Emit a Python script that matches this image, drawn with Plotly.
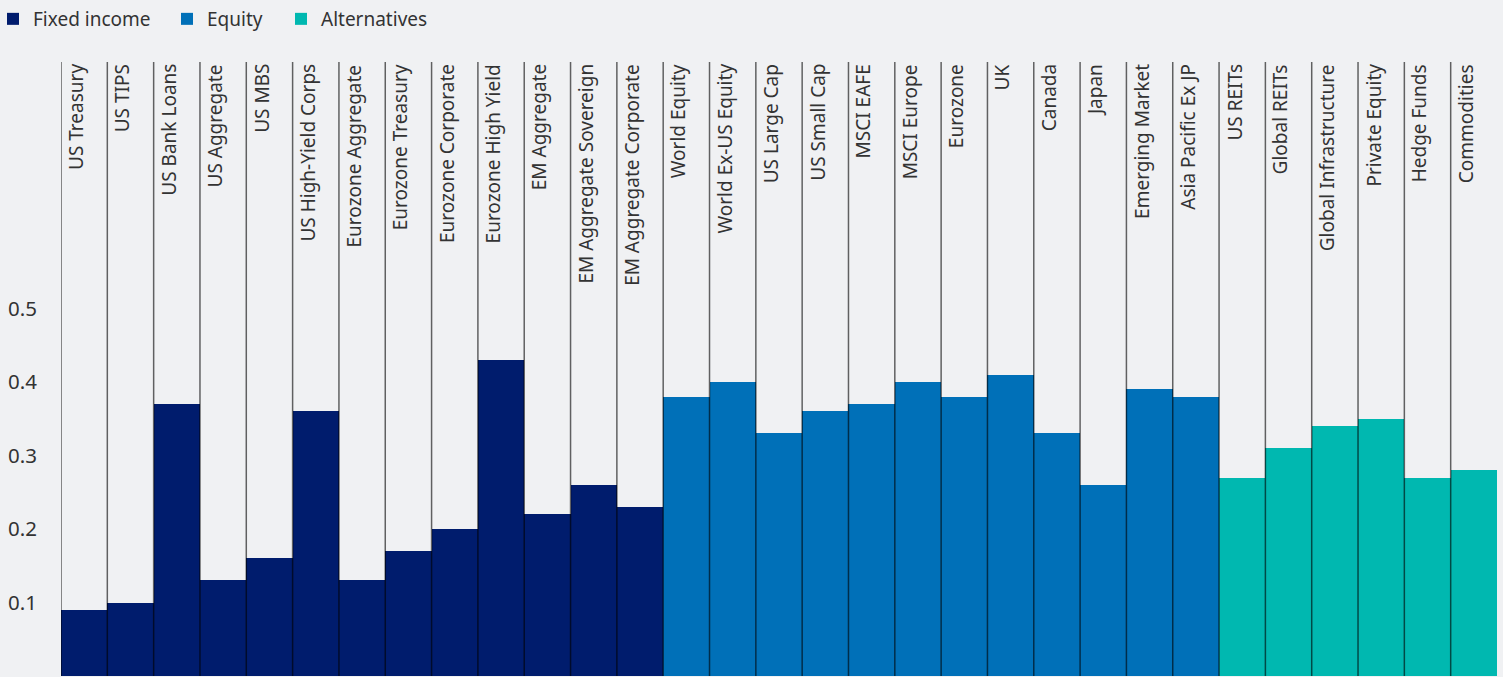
import plotly.graph_objects as go

fixed_income = ["US Treasury", "US TIPS", "US Bank Loans", "US Aggregate", "US MBS",
                "US High-Yield Corps", "Eurozone Aggregate", "Eurozone Treasury",
                "Eurozone Corporate", "Eurozone High Yield", "EM Aggregate",
                "EM Aggregate Sovereign", "EM Aggregate Corporate"]
fixed_income_vals = [0.09, 0.10, 0.37, 0.13, 0.16, 0.36, 0.13, 0.17, 0.20, 0.43, 0.22, 0.26, 0.23]

equity = ["World Equity", "World Ex-US Equity", "US Large Cap", "US Small Cap", "MSCI EAFE",
          "MSCI Europe", "Eurozone", "UK", "Canada", "Japan", "Emerging Market",
          "Asia Pacific Ex JP"]
equity_vals = [0.38, 0.40, 0.33, 0.36, 0.37, 0.40, 0.38, 0.41, 0.33, 0.26, 0.39, 0.38]

alternatives = ["US REITs", "Global REITs", "Global Infrastructure", "Private Equity",
                "Hedge Funds", "Commodities"]
alternatives_vals = [0.27, 0.31, 0.34, 0.35, 0.27, 0.28]

y_ticks = [0.1, 0.2, 0.3, 0.4, 0.5]

groups = [
    ("Fixed income", fixed_income, fixed_income_vals, "#001c6d"),
    ("Equity", equity, equity_vals, "#0070b8"),
    ("Alternatives", alternatives, alternatives_vals, "#00b8b0"),
]
legend_left_px = [0, 167, 281]
legend_indent = [-7, 0, 0]

FONT = "Noto Sans"
BG = "#f0f1f3"
W, H = 1503, 677
ML, MR, MT, MB = 61, 6, 62, 1

fig = go.Figure()
all_cats = []
start = 0
legend_layouts = {}
for k, (name, cats, vals, color) in enumerate(groups):
    xs = list(range(start, start + len(cats)))
    lname = "legend" if k == 0 else "legend%d" % (k + 1)
    fig.add_trace(go.Bar(x=xs, y=vals, name=name, marker=dict(color=color, line=dict(width=0)),
                         width=1.0, hovertext=cats, legend=lname, showlegend=True))
    legend_layouts[lname] = dict(orientation="h",
                                 x=legend_left_px[k] / W, y=1,
                                 xref="container", yref="container",
                                 xanchor="left", yanchor="top",
                                 indentation=legend_indent[k],
                                 font=dict(family=FONT, size=19, color="#333333"),
                                 itemclick=False, bgcolor="rgba(0,0,0,0)")
    all_cats += cats
    start += len(cats)

n = len(all_cats)
shapes = []
annotations = []
for i, cat in enumerate(all_cats):
    shapes.append(dict(type="line", xref="x", yref="paper", x0=i - 0.5, x1=i - 0.5, y0=0, y1=1,
                       line=dict(color="rgba(0,0,0,0.6)", width=1.5), layer="above"))
    annotations.append(dict(x=i - 0.5, y=1, xref="x", yref="paper", text=cat, textangle=-90,
                            showarrow=False, xanchor="left", yanchor="top", xshift=0,
                            font=dict(family=FONT, size=19, color="#333333")))

fig.update_layout(
    width=W, height=H,
    showlegend=True,
    margin=dict(l=ML, r=MR, t=MT, b=MB, autoexpand=False),
    paper_bgcolor=BG, plot_bgcolor=BG,
    barmode="overlay", bargap=0,
    shapes=shapes, annotations=annotations,
    font=dict(family=FONT, size=19, color="#333333"),
    xaxis=dict(range=[-0.5, n - 0.5], showticklabels=False, showgrid=False, zeroline=False,
               ticks=""),
    yaxis=dict(range=[0, 614 / 735], tickvals=y_ticks, ticktext=[str(v) for v in y_ticks],
               showgrid=False, zeroline=False, ticks="", ticklabelstandoff=23,
               tickfont=dict(family=FONT, size=20.5, color="#333333")),
    **legend_layouts,
)

fig.write_html("out.html", config={"displayModeBar": False},
               post_script="document.body.style.margin='0';document.body.style.background='%s';" % BG)
